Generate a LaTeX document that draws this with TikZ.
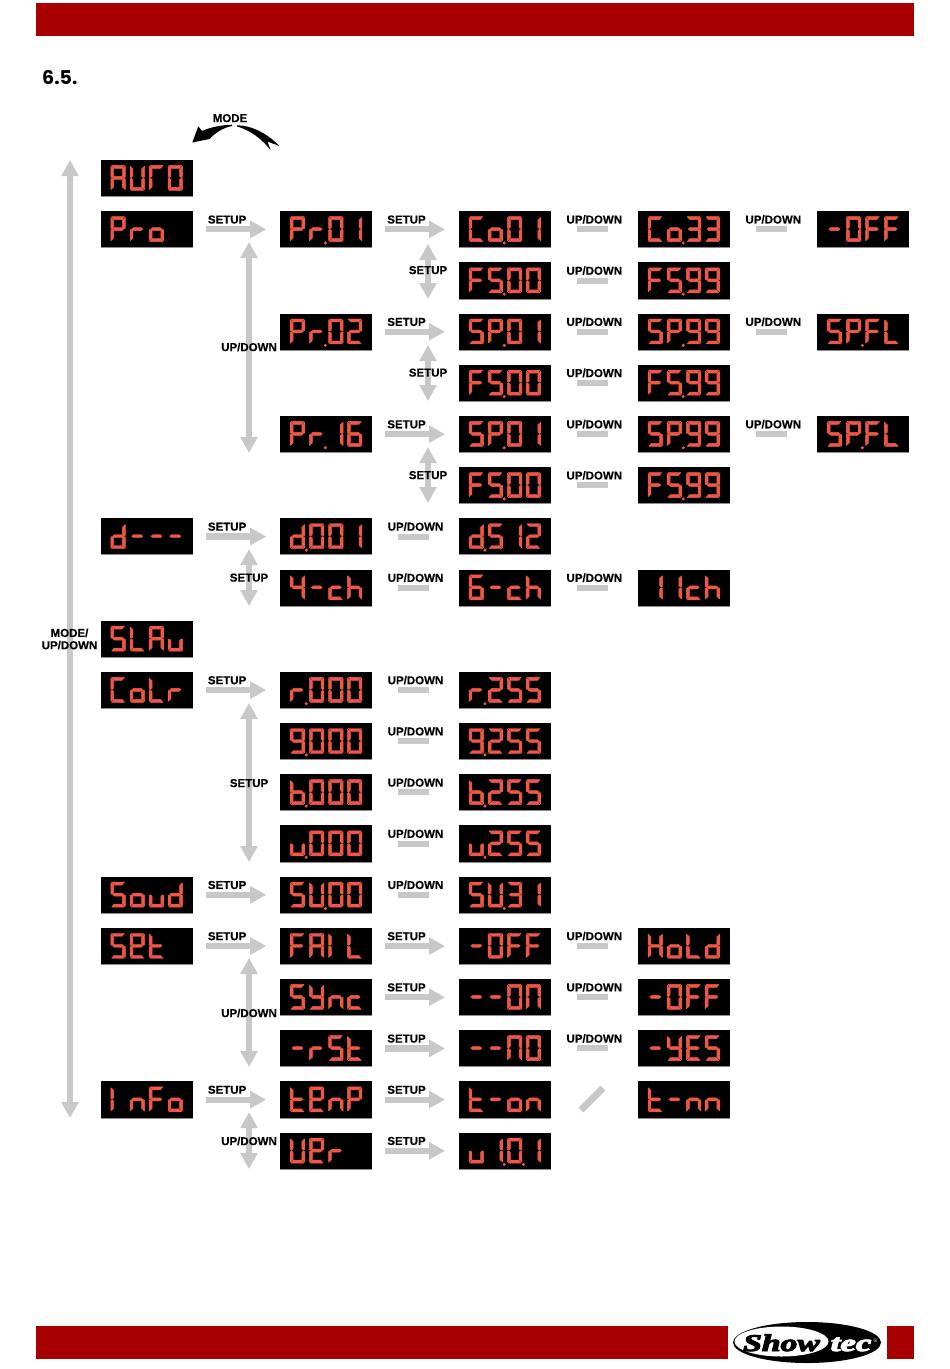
\documentclass[tikz,border=0pt]{standalone}
\usepackage{fontspec}
\setmainfont[BoldFeatures={FakeBold=0.3}]{Liberation Sans}
\newfontfamily\headfont{Poppins}
\newfontfamily\logofont[BoldItalicFeatures={FakeBold=4}]{Liberation Serif}
\usetikzlibrary{arrows.meta}
\definecolor{barred}{HTML}{A80000}
\definecolor{arrowgray}{HTML}{C8C8C8}
\definecolor{segred}{HTML}{EE5844}
\tikzset{
  display/.style={fill=black,minimum width=91.8pt,minimum height=36.4pt,inner sep=0pt,outer sep=0pt,anchor=north west,text opacity=0,font=\fontsize{20}{20}\selectfont},
  seg/.style={fill=segred,draw=segred,line width=.45pt,line join=round},
  harrow/.style={arrowgray,line width=6.2pt,-{Triangle[length=16pt,width=16.5pt]}},
  varrow/.style={arrowgray,line width=6pt,{Triangle[length=16pt,width=16.5pt]}-{Triangle[length=16pt,width=16.5pt]}},
  udbar/.style={arrowgray,line width=6pt},
  lab/.style={font=\fontsize{11.5}{12}\selectfont\bfseries,inner sep=0pt,text height=8.2pt,text depth=0pt,align=center},
}
\newcommand\SegA{\path[seg] (.8,0)--(14.2,0)--(11.6,3)--(3.4,3)--cycle;}
\newcommand\SegB{\path[seg] (15,.8)--(15,11.6)--(13.7,12.2)--(12,10.9)--(12,3.4)--cycle;}
\newcommand\SegC{\path[seg] (15,13.4)--(15,24.2)--(12,21.6)--(12,14.1)--(13.7,12.8)--cycle;}
\newcommand\SegD{\path[seg] (.8,25)--(14.2,25)--(11.6,22)--(3.4,22)--cycle;}
\newcommand\SegE{\path[seg] (0,13.4)--(0,24.2)--(3,21.6)--(3,14.1)--(1.3,12.8)--cycle;}
\newcommand\SegF{\path[seg] (0,.8)--(0,11.6)--(1.3,12.2)--(3,10.9)--(3,3.4)--cycle;}
\newcommand\SegG{\path[seg] (1.8,12.5)--(3.6,11)--(11.4,11)--(13.2,12.5)--(11.4,14)--(3.6,14)--cycle;}
\newcommand\defch[2]{\expandafter\def\csname ch#1\endcsname{#2}}
\defch{A}{\SegA\SegB\SegC\SegE\SegF\SegG}
\defch{U}{\SegB\SegC\SegD\SegE\SegF}
\defch{T}{\SegA\SegE\SegF}
\defch{P}{\SegA\SegB\SegE\SegF\SegG}
\defch{r}{\SegE\SegG}
\defch{o}{\SegC\SegD\SegE\SegG}
\defch{C}{\SegA\SegD\SegE\SegF}
\defch{F}{\SegA\SegE\SegF\SegG}
\defch{S}{\SegA\SegC\SegD\SegF\SegG}
\defch{L}{\SegD\SegE\SegF}
\defch{H}{\SegB\SegC\SegE\SegF\SegG}
\defch{d}{\SegB\SegC\SegD\SegE\SegG}
\defch{c}{\SegD\SegE\SegG}
\defch{h}{\SegC\SegE\SegF\SegG}
\defch{u}{\SegC\SegD\SegE}
\defch{b}{\SegC\SegD\SegE\SegF\SegG}
\defch{t}{\SegD\SegE\SegF\SegG}
\defch{n}{\SegC\SegE\SegG}
\defch{N}{\SegA\SegB\SegC\SegE\SegF}
\defch{Y}{\SegB\SegC\SegD\SegF\SegG}
\defch{E}{\SegA\SegB\SegD\SegE\SegF\SegG}
\defch{G}{\SegA\SegD\SegE\SegF\SegG}
\defch{I}{\SegE\SegF}
\defch{-}{\SegG}
\defch{x}{}
\defch{0}{\SegA\SegB\SegC\SegD\SegE\SegF}
\defch{1}{\SegB\SegC}
\defch{2}{\SegA\SegB\SegD\SegE\SegG}
\defch{3}{\SegA\SegB\SegC\SegD\SegG}
\defch{4}{\SegB\SegC\SegF\SegG}
\defch{6}{\SegA\SegC\SegD\SegE\SegF\SegG}
\defch{9}{\SegA\SegB\SegC\SegD\SegF\SegG}
\newcommand\digitat[2]{\begin{scope}[shift={(#1,5.4)},xscale=.97]\csname ch#2\endcsname\end{scope}}
\newcommand\fourdigits[4]{\digitat{10}{#1}\digitat{29.2}{#2}\digitat{48.4}{#3}\digitat{67.2}{#4}}
% name, column x, row number, printed text, four glyphs, dot positions (0 = none)
\newcommand\disp[6]{%
  \pgfmathsetmacro\dispy{160+51.19*#3}%
  \node[display] (#1) at (#2,\dispy) {#4};
  \draw[black!45,line width=.5pt] (#1.south west) -- (#1.south east);
  \begin{scope}[shift={(#2,\dispy)}]
    \fourdigits#5
    \foreach \q in {#6}{\ifnum\q>0 \fill[segred] ({10+19.2*(\q-1)+16},31.8) circle (1.7);\fi}
  \end{scope}}
\newcommand\hlink[2]{%
  \draw[harrow] ([xshift=13pt]#1.east) -- ([xshift=-14pt]#2.west);
  \node[lab] (#1-lab) at ([xshift=34.5pt,yshift=10pt]#1.east) {SETUP};}
\newcommand\ulink[2]{%
  \draw[udbar] ([xshift=26pt]#1.east) -- ([xshift=-30pt]#2.west);
  \node[lab] (#1-lab) at ([xshift=43.5pt,yshift=10pt]#1.east) {UP/DOWN};}
\begin{document}
\begin{tikzpicture}[x=1pt,y=-1pt]
\useasboundingbox (0,0) rectangle (950,1369);
\fill[white] (0,0) rectangle (950,1369);
% page bars
\fill[barred] (36,3.2) rectangle (914,36.3);
\fill[barred] (36,1326) rectangle (727.7,1359.3);
\fill[barred] (886.7,1326) rectangle (914,1359.3);
\node[font=\headfont\bfseries\fontsize{19}{20}\selectfont,anchor=base west,inner sep=0pt] (sec) at (42,84.5) {6.5.};
% displays
\def\ca{100.8}\def\cb{280.2}\def\cc{459}\def\cd{638}\def\ce{817.2}
\disp{auto}{\ca}{0}{AUTO}{AUT0}{0}
\disp{pro}{\ca}{1}{Pro}{Prox}{0}
\disp{pra}{\cb}{1}{Pr.01}{Pr01}{2}
\disp{coa}{\cc}{1}{Co.01}{Co01}{2}
\disp{cob}{\cd}{1}{Co.33}{Co33}{2}
\disp{offa}{\ce}{1}{-OFF}{-0FF}{0}
\disp{fsa}{\cc}{2}{F5.00}{FS00}{2}
\disp{fsb}{\cd}{2}{F5.99}{FS99}{2}
\disp{prb}{\cb}{3}{Pr.02}{Pr02}{2}
\disp{spa}{\cc}{3}{SP.01}{SP01}{2}
\disp{spb}{\cd}{3}{SP.99}{SP99}{2}
\disp{spc}{\ce}{3}{SP.FL}{SPFL}{2}
\disp{fsc}{\cc}{4}{F5.00}{FS00}{2}
\disp{fsd}{\cd}{4}{F5.99}{FS99}{2}
\disp{prc}{\cb}{5}{Pr.16}{Pr16}{2}
\disp{spd}{\cc}{5}{SP.01}{SP01}{2}
\disp{spe}{\cd}{5}{SP.99}{SP99}{2}
\disp{spf}{\ce}{5}{SP.FL}{SPFL}{2}
\disp{fse}{\cc}{6}{F5.00}{FS00}{2}
\disp{fsf}{\cd}{6}{F5.99}{FS99}{2}
\disp{dmx}{\ca}{7}{d---}{d---}{0}
\disp{daa}{\cb}{7}{d.001}{d001}{1}
\disp{dab}{\cc}{7}{d.512}{dS12}{1}
\disp{cha}{\cb}{8}{4-ch}{4-ch}{0}
\disp{chb}{\cc}{8}{6-ch}{6-ch}{0}
\disp{chc}{\cd}{8}{11ch}{11ch}{0}
\disp{slav}{\ca}{9}{SLAu}{SLAu}{0}
\disp{colr}{\ca}{10}{CoLr}{CoLr}{0}
\disp{ra}{\cb}{10}{r.000}{r000}{1}
\disp{rb}{\cc}{10}{r.255}{r2SS}{1}
\disp{ga}{\cb}{11}{9.000}{9000}{1}
\disp{gb}{\cc}{11}{9.255}{92SS}{1}
\disp{ba}{\cb}{12}{b.000}{b000}{1}
\disp{bb}{\cc}{12}{b.255}{b2SS}{1}
\disp{wa}{\cb}{13}{u.000}{u000}{1}
\disp{wb}{\cc}{13}{u.255}{u2SS}{1}
\disp{soud}{\ca}{14}{Soud}{Soud}{0}
\disp{sua}{\cb}{14}{SU.00}{SU00}{2}
\disp{sub}{\cc}{14}{SU.31}{SU31}{2}
\disp{set}{\ca}{15}{SEt}{SEtx}{0}
\disp{fail}{\cb}{15}{FAIL}{FAIL}{0}
\disp{offb}{\cc}{15}{-OFF}{-0FF}{0}
\disp{hold}{\cd}{15}{HoLd}{HoLd}{0}
\disp{sync}{\cb}{16}{SYnc}{SYnc}{0}
\disp{on}{\cc}{16}{--ON}{--0N}{0}
\disp{offc}{\cd}{16}{-OFF}{-0FF}{0}
\disp{rst}{\cb}{17}{-rSt}{-rSt}{0}
\disp{no}{\cc}{17}{--NO}{--N0}{0}
\disp{yes}{\cd}{17}{-YES}{-YGS}{0}
\disp{info}{\ca}{18}{InFo}{InFo}{0}
\disp{temp}{\cb}{18}{tEnP}{tEnP}{0}
\disp{ton}{\cc}{18}{t-on}{t-on}{0}
\disp{tnn}{\cd}{18}{t-nn}{t-nn}{0}
\disp{ver}{\cb}{19}{UEr}{UErx}{0}
\disp{vnum}{\cc}{19}{u 1.0.1}{u101}{2,3}
% vertical connectors
\coordinate (m1) at (70,160); \coordinate (m2) at (70,1118);
\draw[varrow] (m1) -- (m2);
\coordinate (v1) at (249,242); \coordinate (v2) at (249,453);
\draw[varrow] (v1) -- (v2);
\coordinate (v3) at (428,244); \coordinate (v4) at (428,299);
\draw[varrow] (v3) -- (v4);
\coordinate (v5) at (428,345); \coordinate (v6) at (428,401);
\draw[varrow] (v5) -- (v6);
\coordinate (v7) at (428,447); \coordinate (v8) at (428,503);
\draw[varrow] (v7) -- (v8);
\coordinate (v9) at (249,549); \coordinate (v10) at (249,606);
\draw[varrow] (v9) -- (v10);
\coordinate (v11) at (249,703); \coordinate (v12) at (249,862);
\draw[varrow] (v11) -- (v12);
\coordinate (v13) at (249,958); \coordinate (v14) at (249,1067);
\draw[varrow] (v13) -- (v14);
\coordinate (v15) at (249,1112); \coordinate (v16) at (249,1169);
\draw[varrow] (v15) -- (v16);
% horizontal connectors
\hlink{pro}{pra}\hlink{pra}{coa}\ulink{coa}{cob}\ulink{cob}{offa}
\ulink{fsa}{fsb}
\hlink{prb}{spa}\ulink{spa}{spb}\ulink{spb}{spc}
\ulink{fsc}{fsd}
\hlink{prc}{spd}\ulink{spd}{spe}\ulink{spe}{spf}
\ulink{fse}{fsf}
\hlink{dmx}{daa}\ulink{daa}{dab}
\ulink{cha}{chb}\ulink{chb}{chc}
\hlink{colr}{ra}\ulink{ra}{rb}\ulink{ga}{gb}\ulink{ba}{bb}\ulink{wa}{wb}
\hlink{soud}{sua}\ulink{sua}{sub}
\hlink{set}{fail}\hlink{fail}{offb}\ulink{offb}{hold}
\hlink{sync}{on}\ulink{on}{offc}
\hlink{rst}{no}\ulink{no}{yes}
\hlink{info}{temp}\hlink{temp}{ton}
\hlink{ver}{vnum}
\coordinate (d1) at (581,1110); \coordinate (d2) at (603,1088);
\draw[arrowgray,line width=7pt] (d1) -- (d2);
% free labels
\node[lab] (l1) at (428,270) {SETUP};
\node[lab] (l2) at (428,372.5) {SETUP};
\node[lab] (l3) at (428,475) {SETUP};
\node[lab] (l4) at (249,347) {UP/DOWN};
\node[lab] (l5) at (249,577.5) {SETUP};
\node[lab] (l6) at (249,783) {SETUP};
\node[lab] (l7) at (249,1013) {UP/DOWN};
\node[lab] (l8) at (249,1141) {UP/DOWN};
\node[lab,text height=,text depth=,font=\fontsize{11.5}{12.3}\selectfont\bfseries] (l9) at (69.5,639) {MODE/\\UP/DOWN};
\node[lab] (l10) at (230,118) {MODE};
% MODE curved arrow
\fill[black] (192.3,142.5) -- (198.3,126.3) -- (202,131) .. controls (211,127) and (222,125) .. (232,124.7) -- (232,126) .. controls (224,127.5) and (216,132) .. (209.5,139) -- cycle;
\fill[black] (237,125.3) .. controls (252,125.3) and (268,134) .. (279.3,146) -- (267.5,141.5) -- (270.5,150) .. controls (262,139) and (250,130) .. (237,126.5) -- cycle;
% logo
\fill[black] (807,1342.5) ellipse (74 and 20.5);
\fill[white] (781.5,1341.5) ellipse (47 and 15);
\node[font=\logofont\bfseries\itshape\fontsize{24}{24}\selectfont,inner sep=0pt,xscale=1.4,anchor=base] (show) at (781.5,1351) {Show};
\node[font=\logofont\bfseries\itshape\fontsize{24}{24}\selectfont,text=white,inner sep=0pt,xscale=1.45,anchor=base] (tec) at (851,1351) {tec};
\node[font=\fontsize{5}{5}\selectfont,text=white,inner sep=0pt] (reg) at (875.5,1340.5) {®};
\end{tikzpicture}
\end{document}
